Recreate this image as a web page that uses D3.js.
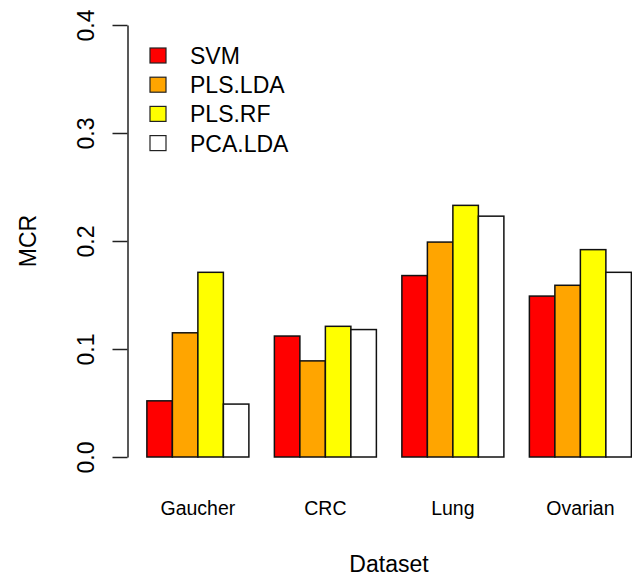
<!DOCTYPE html>
<html>
<head>
<meta charset="utf-8">
<script src="https://cdn.jsdelivr.net/npm/d3@7"></script>
<style>
  body { margin: 0; background: #fff; }
  text { font-family: "Liberation Sans", Arial, sans-serif; fill: #000; }
</style>
</head>
<body>
<svg width="632" height="577"></svg>
<script>
// datasets and methods
const datasets = ["Gaucher", "CRC", "Lung", "Ovarian"];
const methods = ["SVM", "PLS.LDA", "PLS.RF", "PCA.LDA"];
const colors = ["#ff0000", "#ffa500", "#ffff00", "#ffffff"];

// MCR per method, one value per dataset
const svm = [0.052, 0.112, 0.168, 0.149];
const plsLda = [0.115, 0.089, 0.199, 0.159];
const plsRf = [0.171, 0.121, 0.233, 0.192];
const pcaLda = [0.049, 0.118, 0.223, 0.171];

const yTicks = [0, 0.1, 0.2, 0.3, 0.4];

const series = [svm, plsLda, plsRf, pcaLda];

const svg = d3.select("svg");

// barplot style units: one bar = 1 unit, one unit gap before each group
const nM = methods.length;
const nUnits = datasets.length * (nM + 1);
const pad = 0.04 * (nUnits - 1);

const x = d3.scaleLinear()
	.domain([1 - pad, nUnits + pad])
	.range([127.5, 127.5 + (nUnits - 1 + 2 * pad) * 25.5]);

const y = d3.scaleLinear().domain([0, 0.4]).range([457, 25]);

// flatten into bars
const bars = [];
datasets.forEach((ds, g) => {
	series.forEach((vals, j) => {
		bars.push({ g: g, j: j, value: vals[g], left: g * (nM + 1) + 1 + j });
	});
});

svg.append("g")
	.selectAll("rect")
	.data(bars)
	.enter()
	.append("rect")
	.attr("x", (d) => x(d.left))
	.attr("width", (d) => x(d.left + 1) - x(d.left))
	.attr("y", (d) => y(d.value))
	.attr("height", (d) => y(0) - y(d.value))
	.attr("fill", (d) => colors[d.j])
	.attr("stroke", "#111")
	.attr("stroke-width", 1.5);

// y axis
const yAxis = svg.append("g")
	.attr("transform", "translate(127.5,0)")
	.call(d3.axisLeft(y).tickValues(yTicks).tickFormat(d3.format(".1f")).tickSize(15).tickSizeOuter(0));

yAxis.select(".domain").attr("stroke", "#222").attr("stroke-width", 1.5);
yAxis.selectAll(".tick line").attr("stroke", "#222").attr("stroke-width", 1.5);
yAxis.selectAll(".tick text")
	.attr("x", null)
	.attr("dy", null)
	.attr("transform", "translate(-34,0) rotate(-90)")
	.attr("text-anchor", "middle")
	.style("font-size", "23px")
	.style("font-family", "Liberation Sans, Arial, sans-serif");

// category labels
svg.append("g")
	.selectAll("text")
	.data(datasets)
	.enter()
	.append("text")
	.attr("x", (d, g) => (x(g * (nM + 1) + 1) + x(g * (nM + 1) + 1 + nM)) / 2)
	.attr("y", 515)
	.attr("text-anchor", "middle")
	.style("font-size", "19.5px")
	.text((d) => d);

// axis titles
svg.append("text")
	.attr("x", 389)
	.attr("y", 572)
	.attr("text-anchor", "middle")
	.style("font-size", "23px")
	.text("Dataset");

svg.append("text")
	.attr("transform", "translate(36,241) rotate(-90)")
	.attr("text-anchor", "middle")
	.style("font-size", "23px")
	.text("MCR");

// legend
const legend = svg.append("g")
	.selectAll("g")
	.data(methods)
	.enter()
	.append("g")
	.attr("transform", (d, i) => `translate(150,${55.5 + i * 29.2})`);

legend.append("rect")
	.attr("x", 0)
	.attr("y", -7.5)
	.attr("width", 16)
	.attr("height", 15)
	.attr("fill", (d, i) => colors[i])
	.attr("stroke", "#222")
	.attr("stroke-width", 1.2);

legend.append("text")
	.attr("x", 40)
	.attr("y", 8.5)
	.style("font-size", "23px")
	.text((d) => d);
</script>
</body>
</html>
